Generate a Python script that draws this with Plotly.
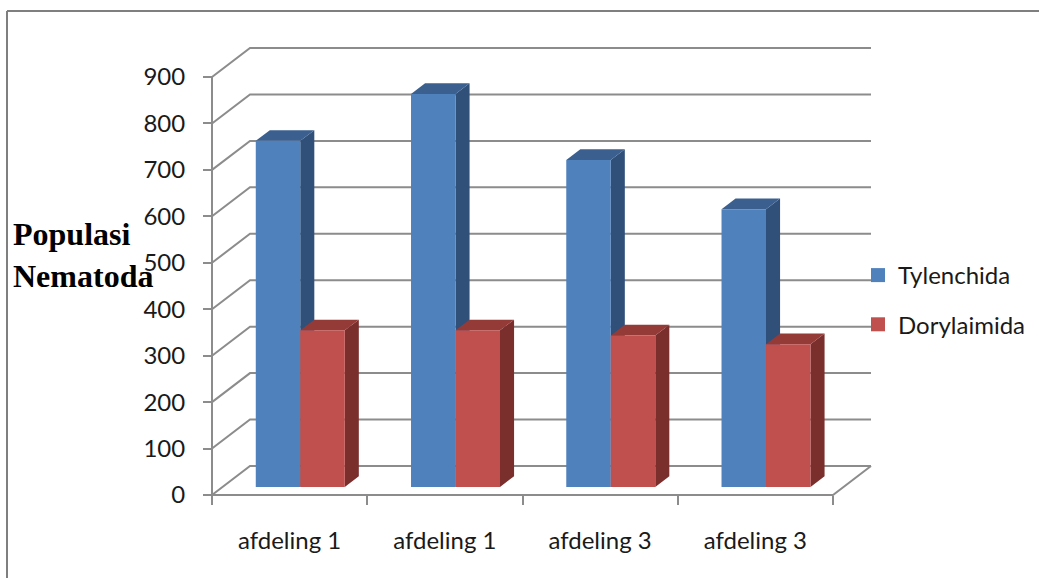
import plotly.graph_objects as go

# ---------------- data ----------------
categories = ["afdeling 1", "afdeling 1", "afdeling 3", "afdeling 3"]
tylenchida = [745, 846, 704, 598]
dorylaimida = [337, 337, 326, 307]
series_names = ["Tylenchida", "Dorylaimida"]
y_ticks = [0, 100, 200, 300, 400, 500, 600, 700, 800, 900]

# ---------------- styling / geometry ----------------
W, H = 1039, 578
FRONT_L, FRONT_R_BACK, BACK_T, FRONT_B = 212, 871, 48, 495
PAD = 4
n = len(categories)
ymax_front = y_ticks[-1]
px_per_val = (495 - 77) / ymax_front
DEPTH_PX_X, DEPTH_PX_Y = 38, 29
px_per_cat = (FRONT_R_BACK - FRONT_L - DEPTH_PX_X) / n
DX = DEPTH_PX_X / px_per_cat          # full depth shift in category units
DY = DEPTH_PX_Y / px_per_val          # full depth shift in value units

F0 = 0.28     # depth of bar front faces
FD = 0.37     # bar depth
BAR_W = 0.2866
GAP = (1 - 2 * BAR_W) / 2

x_range = [-PAD / px_per_cat, n + DX + PAD / px_per_cat]
y_range = [-PAD / px_per_val, ymax_front + DY + PAD / px_per_val]
m_l = FRONT_L - PAD
m_r = W - FRONT_R_BACK - PAD
m_t = BACK_T - PAD
m_b = H - FRONT_B - PAD
plot_w = W - m_l - m_r
plot_h = H - m_t - m_b


def pxx(px):
    return (px - m_l) / plot_w


def pxy(py):
    return (H - m_b - py) / plot_h


front_cols = ["#4F81BD", "#C0504D"]
side_cols = ["#30507A", "#7B2F2D"]
top_cols = ["#3B6090", "#943B38"]
grid_col = "#8C8C8C"
font_fam = "Lato, 'Open Sans', sans-serif"
FS = 24

fig = go.Figure()

# ---------------- walls / gridlines ----------------
gx, gy = [], []
for v in y_ticks:
    gx += [0, DX, n + DX, None]
    gy += [v, v + DY, v + DY, None]
gx += [0, n, n + DX, None]
gy += [0, 0, DY, None]
gx += [0, 0, None]
gy += [0, ymax_front, None]
fig.add_trace(go.Scatter(x=gx, y=gy, mode="lines",
                         line=dict(color=grid_col, width=2),
                         hoverinfo="skip", showlegend=False))

# ---------------- 3D bars ----------------
for s, vals in enumerate([tylenchida, dorylaimida]):
    fx, fy, sx, sy, tx, ty = [], [], [], [], [], []
    for i, v in enumerate(vals):
        xl = i + GAP + s * BAR_W + F0 * DX
        xr = xl + BAR_W
        b0 = F0 * DY
        top = b0 + v
        ddx, ddy = FD * DX, FD * DY
        fx += [xl, xr, xr, xl, xl, None]
        fy += [b0, b0, top, top, b0, None]
        sx += [xr, xr + ddx, xr + ddx, xr, xr, None]
        sy += [b0, b0 + ddy, top + ddy, top, b0, None]
        tx += [xl, xr, xr + ddx, xl + ddx, xl, None]
        ty += [top, top, top + ddy, top + ddy, top, None]
    for xs, ys, col in [(sx, sy, side_cols[s]), (tx, ty, top_cols[s]),
                        (fx, fy, front_cols[s])]:
        fig.add_trace(go.Scatter(x=xs, y=ys, mode="lines", fill="toself",
                                 fillcolor=col, line=dict(width=0, color=col),
                                 hoverinfo="skip", showlegend=False))

# legend entries
for s, name in enumerate(series_names):
    fig.add_trace(go.Scatter(x=[None], y=[None], mode="markers", name=name,
                             legendgroup=name,
                             marker=dict(symbol="square", size=14,
                                         color=front_cols[s])))

# ---------------- layout ----------------
fig.update_layout(
    width=W, height=H,
    margin=dict(l=m_l, r=m_r, t=m_t, b=m_b, pad=0, autoexpand=False),
    paper_bgcolor="white", plot_bgcolor="rgba(0,0,0,0)",
    font=dict(family=font_fam, size=FS, color="#1a1a1a"),
    xaxis=dict(range=x_range, anchor="free", position=pxy(FRONT_B),
               tickvals=[i + 0.5 for i in range(n)], ticktext=categories,
               ticks="", showgrid=False, zeroline=False, showline=False,
               ticklabelstandoff=29, automargin=False,
               minor=dict(tickvals=list(range(n + 1)), ticks="outside",
                          ticklen=9, tickwidth=2, tickcolor=grid_col,
                          showgrid=False),
               tickfont=dict(family=font_fam, size=FS, color="#1a1a1a")),
    yaxis=dict(range=y_range, anchor="free", position=pxx(FRONT_L),
               tickvals=y_ticks, ticks="outside", ticklen=9, tickwidth=2,
               tickcolor=grid_col, showgrid=False, zeroline=False,
               showline=False, ticklabelstandoff=13, automargin=False,
               tickfont=dict(family=font_fam, size=FS, color="#1a1a1a")),
    legend=dict(x=pxx(858), y=pxy(253), xanchor="left", yanchor="top",
                tracegroupgap=15, bgcolor="rgba(0,0,0,0)",
                font=dict(family=font_fam, size=FS, color="#1a1a1a")),
    showlegend=True,
)

fig.add_annotation(text="<b>Populasi<br>Nematoda</b>", xref="paper", yref="paper",
                   x=pxx(11), y=pxy(255), xanchor="left", yanchor="middle",
                   align="left", showarrow=False,
                   font=dict(family="'Liberation Serif', 'Times New Roman', serif",
                             size=32, color="black"))

# outer frame (top and left edges visible)
fig.add_shape(type="line", xref="paper", yref="paper",
              x0=pxx(7), y0=pxy(11), x1=pxx(W + 5), y1=pxy(11),
              line=dict(color="#7F7F7F", width=2))
fig.add_shape(type="line", xref="paper", yref="paper",
              x0=pxx(7), y0=pxy(11), x1=pxx(7), y1=pxy(H + 5),
              line=dict(color="#7F7F7F", width=2))

fig.write_html("out.html")
